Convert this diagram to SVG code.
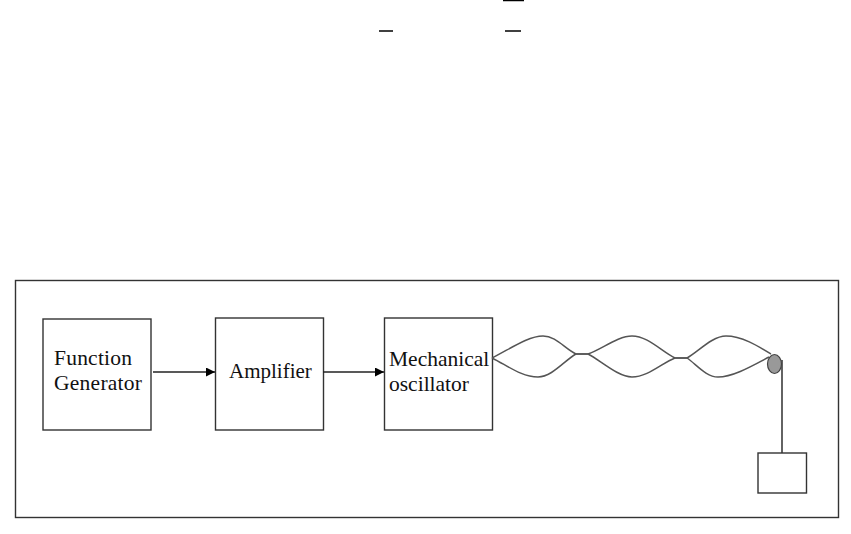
<svg xmlns="http://www.w3.org/2000/svg" width="851" height="534" viewBox="0 0 851 534">
<style>
.b{fill:#fff;stroke:#333;stroke-width:1.4}
.t{font-family:"Liberation Serif",serif;font-size:21.500px;fill:#111}
.a{font-size:21px}
.c{fill:none;stroke:#222;stroke-width:1.4}
.w{fill:none;stroke:#555;stroke-width:1.5}
.r{stroke:#000;stroke-width:1.5}
</style>
<defs><marker id="a" markerUnits="userSpaceOnUse" markerWidth="10" markerHeight="9" refX="9" refY="4.500" orient="auto"><path d="M0 0L9 4.500L0 9Z" fill="#000"/></marker></defs>
<rect width="851" height="534" fill="#fff"/>
<g id="fragments"><line class="r" x1="503" y1="0.500" x2="524" y2="0.500"/><line class="r" x1="379" y1="31" x2="393" y2="31"/><line class="r" x1="505" y1="31" x2="521" y2="31"/></g>
<rect id="frame" x="15.500" y="280.500" width="823" height="237" fill="none" stroke="#333" stroke-width="1.400"/>
<g id="function-generator"><rect class="b" x="43" y="319" width="108" height="111"/><text class="t" x="54" y="365" textLength="78">Function</text><text class="t" x="54" y="390" textLength="88">Generator</text></g>
<g id="amplifier"><rect class="b" x="215.500" y="318" width="108" height="112"/><text class="t a" x="229" y="378">Amplifier</text></g>
<g id="mechanical-oscillator"><rect class="b" x="384.500" y="318" width="108" height="112"/><text class="t" x="389" y="366">Mechanical</text><text class="t" x="389" y="391">oscillator</text></g>
<g id="connectors">
<line class="c" x1="153" y1="372" x2="215" y2="372" marker-end="url(#a)"/>
<line class="c" x1="323" y1="372" x2="384" y2="372" marker-end="url(#a)"/>
<path class="w" d="M492 358C510 349 528 336 543 336C556 336 565 349 576 354H588C602 349 618 336 632 336C648 336 662 352 675 358H687C698 352 712 336 726 336C742 336 758 346 771 354"/>
<path class="w" d="M492 358C508 366 522 377 538 377C552 377 565 360 576 354H588C600 360 618 377 632 377C648 377 662 363 675 358H687C696 364 706 377 718 377C733 377 752 366 769 357"/>
<line class="c" x1="782" y1="360" x2="782" y2="453"/>
</g>
<g id="pulley"><ellipse cx="774.500" cy="364" rx="7" ry="9.500" fill="#999" stroke="#444" stroke-width="1.200"/></g>
<g id="weight"><rect class="b" x="758" y="453" width="48.500" height="40"/></g>
</svg>
